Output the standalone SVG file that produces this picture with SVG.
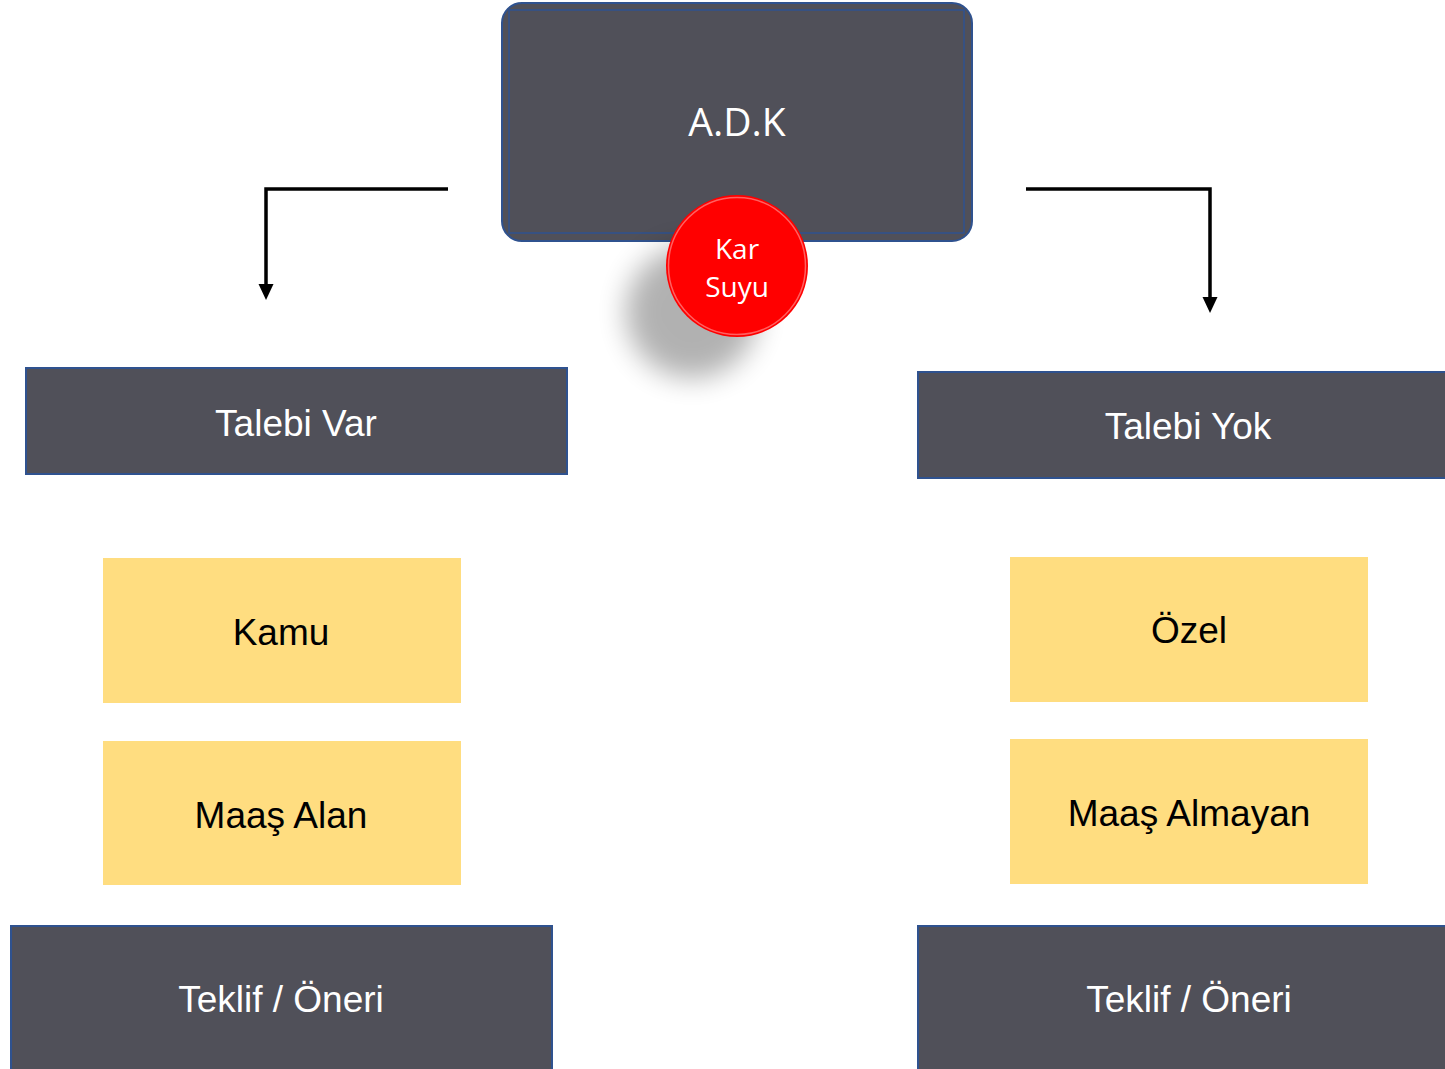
<svg xmlns="http://www.w3.org/2000/svg" width="1445" height="1069" viewBox="0 0 1445 1069">
<style>
.dark{fill:#505059;stroke:#2F528F;stroke-width:2}
.yel{fill:#FFDD80}
.lt{font-family:"Liberation Sans",Arial,sans-serif;font-size:37px;text-anchor:middle}
.w{fill:#ffffff}
.b{fill:#000000}
.conn{fill:none;stroke:#000;stroke-width:3.5}
.ah{fill:#000}
</style>
<defs>
<filter id="sh" x="-50%" y="-50%" width="200%" height="200%">
<feGaussianBlur stdDeviation="14"/>
</filter>
</defs>
<rect width="1445" height="1069" fill="#ffffff"/>
<g id="connectors">
<path class="conn" d="M448,189 H266 V286"/>
<path class="ah" d="M258.5,284 L273.5,284 L266,300 Z"/>
<path class="conn" d="M1026,189 H1210 V299"/>
<path class="ah" d="M1202.5,297 L1217.5,297 L1210,313 Z"/>
</g>
<g id="adk">
<rect class="dark" x="502" y="3" width="470" height="238" rx="20" ry="20"/>
<rect x="509" y="10" width="455" height="223" fill="none" stroke="#2F528F" stroke-width="1.5"/>
<text x="737" y="136" font-family="'Open Sans','Noto Sans',sans-serif" font-size="39" text-anchor="middle" fill="#fff">A.D.K</text>
</g>
<g id="karsuyu">
<circle cx="692" cy="312" r="66" fill="#000" opacity="0.3" filter="url(#sh)"/>
<circle cx="737" cy="266" r="71" fill="#FF0000"/>
<circle cx="737" cy="266" r="68.5" fill="none" stroke="#FFA0A0" stroke-width="1.5" opacity="0.6"/>
<text x="737" y="259" font-family="'Open Sans','Noto Sans',sans-serif" font-size="28" text-anchor="middle" fill="#fff">Kar</text>
<text x="737" y="297" font-family="'Open Sans','Noto Sans',sans-serif" font-size="28" text-anchor="middle" fill="#fff">Suyu</text>
</g>
<g id="talebi-var">
<rect class="dark" x="26" y="368" width="541" height="106"/>
<text class="lt w" x="296" y="436">Talebi Var</text>
</g>
<g id="talebi-yok">
<rect class="dark" x="918" y="372" width="530" height="106"/>
<text class="lt w" x="1188" y="439">Talebi Yok</text>
</g>
<g id="kamu">
<rect class="yel" x="103" y="558" width="358" height="145"/>
<text class="lt b" x="281" y="645">Kamu</text>
</g>
<g id="maas-alan">
<rect class="yel" x="103" y="741" width="358" height="144"/>
<text class="lt b" x="281" y="828">Maaş Alan</text>
</g>
<g id="ozel">
<rect class="yel" x="1010" y="557" width="358" height="145"/>
<text class="lt b" x="1189" y="643">Özel</text>
</g>
<g id="maas-almayan">
<rect class="yel" x="1010" y="739" width="358" height="145"/>
<text class="lt b" x="1189" y="826">Maaş Almayan</text>
</g>
<g id="teklif-left">
<rect class="dark" x="11" y="926" width="541" height="150"/>
<text class="lt w" x="281" y="1012">Teklif / Öneri</text>
</g>
<g id="teklif-right">
<rect class="dark" x="918" y="926" width="530" height="150"/>
<text class="lt w" x="1189" y="1012">Teklif / Öneri</text>
</g>
</svg>
